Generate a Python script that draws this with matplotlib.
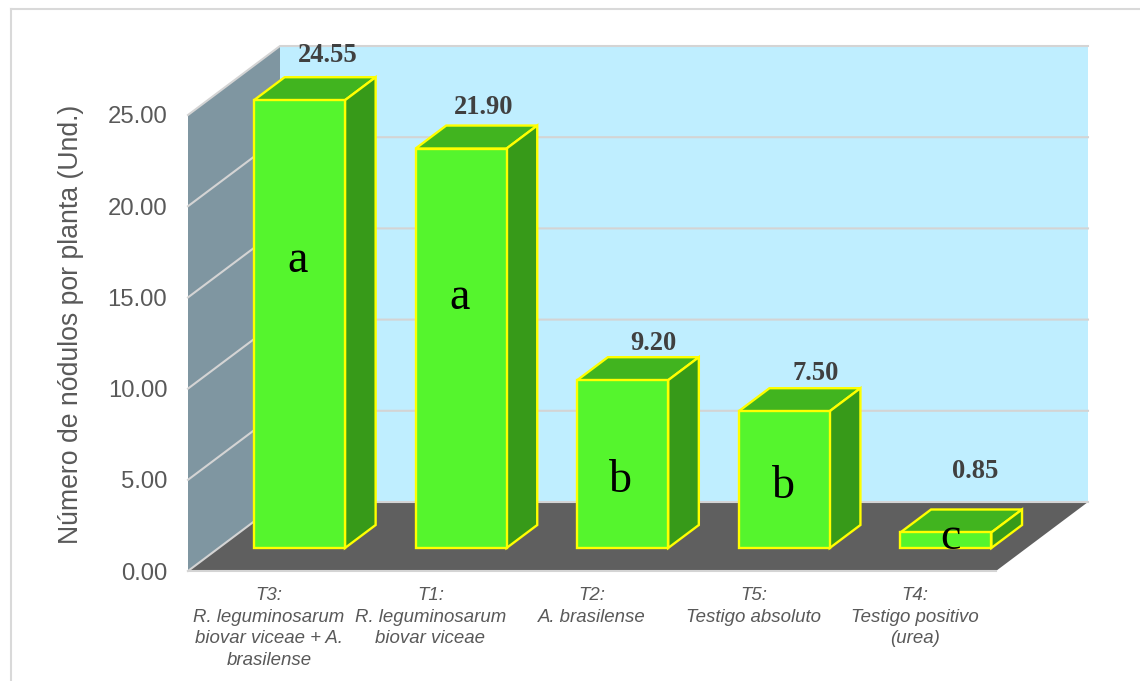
import numpy as np
from matplotlib import pyplot as plt
from matplotlib.lines import Line2D
from matplotlib.patches import Polygon

treatments = [
    "T3:\nR. leguminosarum\nbiovar viceae + A.\nbrasilense",
    "T1:\nR. leguminosarum\nbiovar viceae",
    "T2:\nA. brasilense",
    "T5:\nTestigo absoluto",
    "T4:\nTestigo positivo\n(urea)",
]
nodules = [24.55, 21.90, 9.20, 7.50, 0.85]
value_labels = ["24.55", "21.90", "9.20", "7.50", "0.85"]
letters = ["a", "a", "b", "b", "c"]
y_ticks = [0, 5, 10, 15, 20, 25]

W, H = 1140, 681

# depth of the 3d box, in data units
DX = 92 / 161.6
DY = 69 / 18.24
BAR_W = 91 / 161.6
BAR_DEPTH = 1 / 3


def project(x, y, d):
    return (x + d * DX, y + d * DY)


def quad(ax, pts, color, edge="none", lw=0, z=1):
    ax.add_patch(Polygon(pts, closed=True, facecolor=color, edgecolor=edge,
                         linewidth=lw, zorder=z, clip_on=False, joinstyle="miter"))


fig = plt.figure(figsize=(W / 100, H / 100), dpi=100)
ax = fig.add_axes([188 / W, 1 - 571 / H, 808 / W, 456 / H])
ax.set_xlim(0, 5)
ax.set_ylim(0, 25)
ax.patch.set_visible(False)
for sp in ax.spines.values():
    sp.set_visible(False)

# outer chart frame
frame = "#d9d9d9"
fig.add_artist(Line2D([11 / W, 11 / W], [0, 1 - 9 / H], color=frame, lw=1.5))
fig.add_artist(Line2D([11 / W, 1], [1 - 9 / H, 1 - 9 / H], color=frame, lw=1.5))

# walls and floor
n = len(nodules)
quad(ax, [project(0, 0, 0), project(0, 0, 1), project(0, 25, 1), project(0, 25, 0)], "#7f96a1")
quad(ax, [project(0, 0, 1), project(n, 0, 1), project(n, 25, 1), project(0, 25, 1)], "#bfeeff")
quad(ax, [project(0, 0, 0), project(n, 0, 0), project(n, 0, 1), project(0, 0, 1)], "#5f5f5f")

grid = "#d4d4d4"
for v in y_ticks:
    p0, p1, p2 = project(0, v, 0), project(0, v, 1), project(n, v, 1)
    ax.plot([p0[0], p1[0], p2[0]], [p0[1], p1[1], p2[1]], color=grid, lw=1.5,
            zorder=2, clip_on=False, solid_joinstyle="miter")
ax.plot([0, n], [0, 0], color=grid, lw=1.5, zorder=2, clip_on=False)

# bars
yellow = "#ffff00"
x0 = np.arange(n) + (1 - BAR_W) / 2
for i, v in enumerate(nodules):
    fx, fy = project(x0[i], 0, BAR_DEPTH)
    ax.bar(fx, v, BAR_W, bottom=fy, align="edge", color="#55f52d", edgecolor=yellow,
           linewidth=1.7, zorder=5, clip_on=False)
    top = fy + v
    quad(ax, [(fx, top), (fx + BAR_W, top),
              (fx + BAR_W + BAR_DEPTH * DX, top + BAR_DEPTH * DY),
              (fx + BAR_DEPTH * DX, top + BAR_DEPTH * DY)],
         "#41b41f", yellow, 1.7, 4)
    quad(ax, [(fx + BAR_W, fy), (fx + BAR_W + BAR_DEPTH * DX, fy + BAR_DEPTH * DY),
              (fx + BAR_W + BAR_DEPTH * DX, top + BAR_DEPTH * DY), (fx + BAR_W, top)],
         "#379a19", yellow, 1.7, 4)

# value labels sit above the back of each bar, offsets in pixels
label_dx = [28, 23, 31, 31, 29]
label_dy = [45, 41, 37, 38, 61]
letter_dx = [-2, -2, -2, -1, 5]
letter_y = [17.0, 14.97, 4.95, 4.62, 1.85]
for i, v in enumerate(nodules):
    fx, fy = project(x0[i], 0, BAR_DEPTH)
    ax.annotate(value_labels[i], (fx + BAR_W / 2, fy + v), xycoords="data",
                xytext=(label_dx[i] * 0.72, label_dy[i] * 0.72), textcoords="offset points",
                ha="center", va="center", family="Liberation Serif", weight="bold",
                fontsize=19.1, color="#404040", zorder=8, annotation_clip=False)
    ax.annotate(letters[i], (fx + BAR_W / 2, letter_y[i]), xycoords="data",
                xytext=(letter_dx[i] * 0.72, 0), textcoords="offset points",
                ha="center", va="center", family="Liberation Serif",
                fontsize=33, color="black", zorder=8, annotation_clip=False)

# axes text
ax.set_yticks(y_ticks)
ax.set_yticklabels(["%.2f" % t for t in y_ticks], family="Liberation Sans",
                   fontsize=17.2, color="#595959")
ax.set_xticks(np.arange(n) + 0.5)
ax.set_xticklabels(treatments, family="Liberation Sans", style="italic",
                   fontsize=13.4, color="#595959", linespacing=1.35)
ax.tick_params(axis="y", length=0, pad=15)
ax.tick_params(axis="x", length=0, pad=11.5)
ax.set_ylabel("Número de nódulos por planta (Und.)", family="Liberation Sans",
              fontsize=19.2, color="#595959", va="center")
ax.yaxis.set_label_coords((71 - 188) / 808, (571 - 324) / 456)

fig.savefig("out.png", dpi=100)
plt.close(fig)
